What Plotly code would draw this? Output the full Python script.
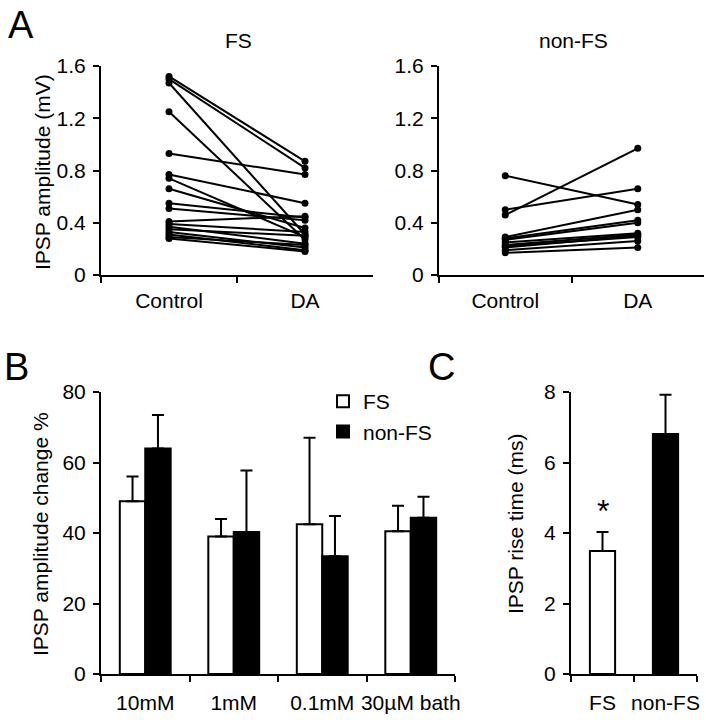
import plotly.graph_objects as go

# ---------------- data ----------------
# Panel A: paired IPSP amplitudes (mV)
conditions = ["Control", "DA"]
fs_control = [1.52, 1.50, 1.47, 1.25, 0.93, 0.77, 0.74, 0.66, 0.55, 0.51, 0.41, 0.39, 0.37, 0.35, 0.33, 0.31, 0.29, 0.28]
fs_da      = [0.87, 0.82, 0.31, 0.27, 0.77, 0.55, 0.29, 0.36, 0.44, 0.42, 0.45, 0.33, 0.24, 0.30, 0.21, 0.19, 0.23, 0.18]
nonfs_control = [0.76, 0.46, 0.50, 0.29, 0.28, 0.27, 0.25, 0.23, 0.22, 0.21, 0.19, 0.17]
nonfs_da      = [0.54, 0.97, 0.66, 0.50, 0.42, 0.40, 0.32, 0.31, 0.29, 0.30, 0.26, 0.21]
a_ticks = [0, 0.4, 0.8, 1.2, 1.6]

# Panel B: IPSP amplitude change %
concentrations = ["10mM", "1mM", "0.1mM", "30\u00b5M bath"]
fs_change = [49.0, 39.0, 42.5, 40.5]
fs_change_err = [7.0, 5.0, 24.5, 7.2]
nonfs_change = [64.0, 40.3, 33.4, 44.3]
nonfs_change_err = [9.5, 17.4, 11.4, 6.0]

# Panel C: IPSP rise time (ms)
cell_types = ["FS", "non-FS"]
rise_time = [3.49, 6.81]
rise_time_err = [0.54, 1.11]

# ---------------- figure ----------------
W, H = 706, 720
FONT = "Liberation Sans, Arial, Helvetica, sans-serif"


def px(x):
    return x / W


def py(y):
    return 1 - y / H


fig = go.Figure()


def add_pairs(ctrl, da, xa, ya):
    xs, ys = [], []
    for c, d in zip(ctrl, da):
        xs += [conditions[0], conditions[1], None]
        ys += [c, d, None]
    fig.add_trace(go.Scatter(
        x=xs, y=ys, mode="lines+markers", xaxis=xa, yaxis=ya,
        line=dict(color="black", width=2),
        marker=dict(color="black", size=7),
        showlegend=False, connectgaps=False,
    ))


add_pairs(fs_control, fs_da, "x", "y")
add_pairs(nonfs_control, nonfs_da, "x2", "y2")

fig.add_trace(go.Bar(
    x=concentrations, y=fs_change, name="FS", xaxis="x3", yaxis="y3",
    marker=dict(color="white", line=dict(color="black", width=2)),
    error_y=dict(type="data", array=fs_change_err, arrayminus=[0] * len(fs_change),
                 symmetric=False, color="black", thickness=2, width=6),
))
fig.add_trace(go.Bar(
    x=concentrations, y=nonfs_change, name="non-FS", xaxis="x3", yaxis="y3",
    marker=dict(color="black", line=dict(color="black", width=2)),
    error_y=dict(type="data", array=nonfs_change_err, arrayminus=[0] * len(nonfs_change),
                 symmetric=False, color="black", thickness=2, width=6),
))
fig.add_trace(go.Bar(
    x=cell_types, y=rise_time, xaxis="x4", yaxis="y4", width=0.4,
    marker=dict(color=["white", "black"], line=dict(color="black", width=2)),
    error_y=dict(type="data", array=rise_time_err, arrayminus=[0] * len(rise_time),
                 symmetric=False, color="black", thickness=2, width=6),
    showlegend=False,
))

tickfont = dict(family=FONT, size=21, color="black")
common = dict(showline=True, linecolor="black", linewidth=2, ticks="outside",
              ticklen=6, tickwidth=2, tickcolor="black", showgrid=False,
              zeroline=False, tickfont=tickfont, fixedrange=True, automargin=False)


def xcat(domain, anchor, n, standoff):
    return dict(common, domain=domain, anchor=anchor, type="category",
                tickson="boundaries", range=[-0.5, n - 0.5], tickangle=0,
                ticklabelstandoff=standoff)


def ylin(domain, anchor, rng, **kw):
    return dict(common, domain=domain, anchor=anchor, range=rng,
                ticklabelstandoff=3, **kw)


A_BOT, A_TOP = 275, 66
fig.update_layout(
    width=W, height=H, autosize=False,
    margin=dict(l=0, r=0, t=0, b=0, pad=0),
    paper_bgcolor="white", plot_bgcolor="white",
    font=dict(family=FONT, color="black"),
    barmode="group", bargap=0.425, bargroupgap=0,
    xaxis=xcat([px(101), px(373)], "y", 2, 6),
    yaxis=ylin([py(A_BOT), py(A_TOP)], "x", [0, 1.6], tickvals=a_ticks),
    xaxis2=xcat([px(439), px(704)], "y2", 2, 6),
    yaxis2=ylin([py(A_BOT), py(A_TOP)], "x2", [0, 1.6], tickvals=a_ticks),
    xaxis3=xcat([px(101), px(455)], "y3", 4, 9),
    yaxis3=ylin([py(674), py(392)], "x3", [0, 80], dtick=20),
    xaxis4=xcat([px(571), px(697)], "y4", 2, 9),
    yaxis4=ylin([py(674), py(392)], "x4", [0, 8], dtick=2),
    legend=dict(x=px(323), y=py(381), xanchor="left", yanchor="top",
                font=dict(family=FONT, size=21, color="black"),
                bgcolor="rgba(0,0,0,0)", itemwidth=30, tracegroupgap=0,
                traceorder="normal"),
    showlegend=True,
    hovermode=False,
)

ann = []


def label(text, x, y, size, angle=0):
    ann.append(dict(text=text, x=px(x), y=py(y), xref="paper", yref="paper",
                    showarrow=False, textangle=angle, xanchor="center", yanchor="middle",
                    font=dict(family=FONT, size=size, color="black")))


label("A", 21, 25, 38)
label("B", 16, 367, 38)
label("C", 442, 367, 38)
label("FS", 238, 40, 21)
label("non-FS", 573, 40, 21)
label("IPSP amplitude (mV)", 42, 172, 21, -90)
label("IPSP amplitude change %", 40, 534, 21, -90)
label("IPSP rise time (ms)", 515, 524, 21, -90)

ann.append(dict(text="*", x=cell_types[0], y=rise_time[0] + rise_time_err[0] + 0.6,
                xref="x4", yref="y4", showarrow=False, yanchor="middle",
                font=dict(family=FONT, size=32, color="black")))

fig.update_layout(annotations=ann)
# Drop the browser's default 8px body margin so the 706x720 figure fills the window.
fig.write_html("out.html", config={"displayModeBar": False, "staticPlot": False},
               post_script="document.body.style.margin='0px';")
